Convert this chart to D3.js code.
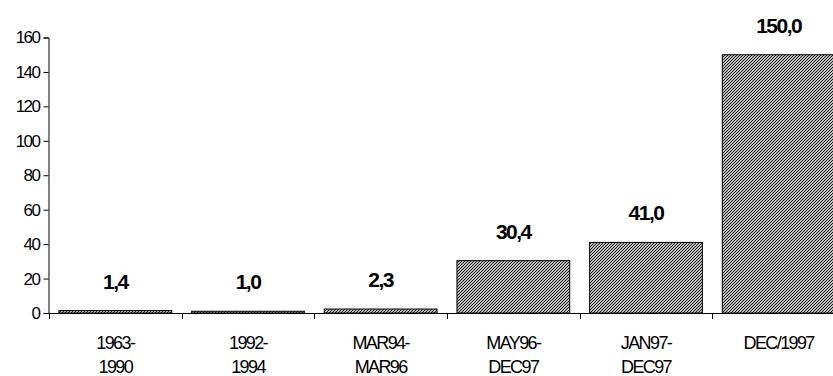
<!DOCTYPE html>
<html>
<head>
<meta charset="utf-8">
<script src="https://cdn.jsdelivr.net/npm/d3@7/dist/d3.min.js"></script>
<style>
  html, body { margin: 0; padding: 0; background: #fff; }
  svg { display: block; font-family: "Liberation Sans", Arial, sans-serif; }
</style>
</head>
<body>
<svg id="chart" width="833" height="376"></svg>
<script>
// Periods (two-line labels) and their values
const categories = [
  ["1963-", "1990"],
  ["1992-", "1994"],
  ["MAR94-", "MAR96"],
  ["MAY96-", "DEC97"],
  ["JAN97-", "DEC97"],
  ["DEC/1997"]
];
const values = [1.4, 1.0, 2.3, 30.4, 41.0, 150.0];
const yTicks = [0, 20, 40, 60, 80, 100, 120, 140, 160];

const svg = d3.select("#chart");
const keys = categories.map((c, i) => i);

const x = d3.scaleBand()
  .domain(keys)
  .range([49, 845])
  .paddingInner(0.15)
  .paddingOuter(0.075);

const y = d3.scaleLinear().domain([0, 160]).range([313, 37.5]);

const fmt = d3.formatLocale({ decimal: ",", thousands: ".", grouping: [3], currency: ["", ""] }).format(".1f");

// Fine hatched fill for the bars
const defs = svg.append("defs");
const pat = defs.append("pattern")
  .attr("id", "hatch")
  .attr("patternUnits", "userSpaceOnUse")
  .attr("width", 3).attr("height", 3);
pat.append("rect").attr("width", 3).attr("height", 3).attr("fill", "#fff");
pat.append("path")
  .attr("d", "M-1,1 L1,-1 M0,3 L3,0 M2,4 L4,2")
  .attr("stroke", "#111").attr("stroke-width", 1.1);

// Bars
svg.append("g").selectAll("rect")
  .data(values)
  .join("rect")
  .attr("x", (d, i) => x(i))
  .attr("y", d => y(d))
  .attr("width", x.bandwidth())
  .attr("height", d => y(0) - y(d))
  .attr("fill", "url(#hatch)")
  .attr("stroke", "#000")
  .attr("stroke-width", 1);

// Value labels above bars
svg.append("g").selectAll("text")
  .data(values)
  .join("text")
  .attr("x", (d, i) => x(i) + x.bandwidth() / 2)
  .attr("y", d => y(d) - 22)
  .attr("text-anchor", "middle")
  .attr("font-size", 21)
  .attr("font-weight", "bold")
  .attr("letter-spacing", -1.5)
  .attr("fill", "#000")
  .text(d => fmt(d));

// Y axis
const yAxis = svg.append("g")
  .attr("transform", "translate(48.5,0)")
  .call(d3.axisLeft(y).tickValues(yTicks).tickSize(5).tickPadding(4).tickFormat(d3.format("d")));
yAxis.select(".domain").attr("stroke", "#000");
yAxis.selectAll(".tick line").attr("stroke", "#000");
yAxis.selectAll("text")
  .attr("font-size", 17)
  .attr("letter-spacing", -1.5)
  .attr("fill", "#000")
  .attr("font-family", "'Liberation Sans', Arial, sans-serif");

// X axis: baseline, boundary ticks, two-line category labels
const step = x.step();
const gx = svg.append("g");
gx.append("line")
  .attr("x1", 48.5).attr("x2", 845)
  .attr("y1", y(0) + 0.5).attr("y2", y(0) + 0.5)
  .attr("stroke", "#000");
const bounds = d3.range(categories.length + 1).map(i => x(0) - x.paddingOuter() * step + i * step);
gx.selectAll("line.sep")
  .data(bounds)
  .join("line")
  .attr("class", "sep")
  .attr("x1", d => Math.round(d) + 0.5).attr("x2", d => Math.round(d) + 0.5)
  .attr("y1", y(0)).attr("y2", y(0) + 6)
  .attr("stroke", "#000");

const lab = gx.selectAll("text.cat")
  .data(categories)
  .join("text")
  .attr("class", "cat")
  .attr("text-anchor", "middle")
  .attr("font-size", 18)
  .attr("letter-spacing", -1.6)
  .attr("fill", "#000");
lab.selectAll("tspan")
  .data((d, i) => d.map(t => ({ t, i })))
  .join("tspan")
  .attr("x", d => x(d.i) + x.bandwidth() / 2)
  .attr("y", (d, j) => 349 + j * 24)
  .text(d => d.t);
</script>
</body>
</html>
